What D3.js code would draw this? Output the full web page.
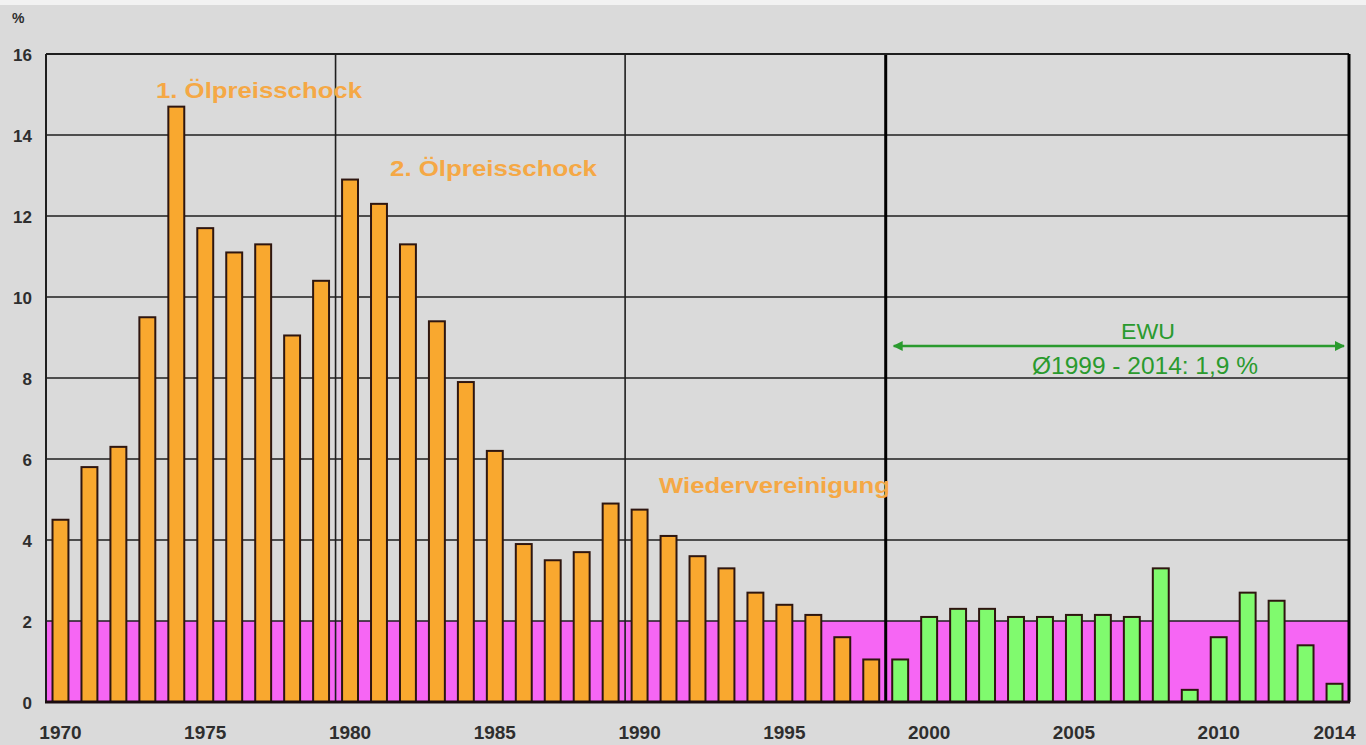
<!DOCTYPE html>
<html>
<head>
<meta charset="utf-8">
<script src="https://cdn.jsdelivr.net/npm/d3@7"></script>
<style>
  html, body { margin: 0; padding: 0; background: #dadada; }
  svg { display: block; }
</style>
</head>
<body>
<svg id="chart" width="1366" height="745"></svg>
<script>
// Inflation rate (%) per year, 1970-1998 (before the monetary union)
const yearsPre = d3.range(1970, 1999);
const valuesPre = [4.5, 5.8, 6.3, 9.5, 14.7, 11.7, 11.1, 11.3, 9.05, 10.4,
                   12.9, 12.3, 11.3, 9.4, 7.9, 6.2, 3.9, 3.5, 3.7, 4.9,
                   4.75, 4.1, 3.6, 3.3, 2.7, 2.4, 2.15, 1.6, 1.05];
// Inflation rate (%) per year, 1999-2014 (EWU period)
const yearsEwu = d3.range(1999, 2015);
const valuesEwu = [1.05, 2.1, 2.3, 2.3, 2.1, 2.1, 2.15, 2.15, 2.1, 3.3,
                   0.3, 1.6, 2.7, 2.5, 1.4, 0.45];
// Axis ticks
const yTicks = [0, 2, 4, 6, 8, 10, 12, 14, 16];
const xTickYears = [1970, 1975, 1980, 1985, 1990, 1995, 2000, 2005, 2010, 2014];
const decadeLines = [1980, 1990];
const ewuStart = 1999;
const targetBand = 2;

(function () {
const allYears = yearsPre.concat(yearsEwu);
const bars = yearsPre.map((yr, i) => ({ year: yr, value: valuesPre[i], ewu: false }))
  .concat(yearsEwu.map((yr, i) => ({ year: yr, value: valuesEwu[i], ewu: true })));

const pLeft = 46, pRight = 1349, pTop = 54, pBottom = 702;
const svg = d3.select("#chart");
const font = "'Liberation Sans', Arial, sans-serif";

const x = d3.scaleBand().domain(allYears).range([pLeft, pRight])
  .paddingInner(0.45).paddingOuter(0.225);
const y = d3.scaleLinear().domain([0, 16]).range([pBottom, pTop]);
const bandStart = yr => x(yr) - (x.step() - x.bandwidth()) / 2;

// page background with a pale strip along the top
svg.append("rect").attr("width", 1366).attr("height", 745).attr("fill", "#dadada");
svg.append("rect").attr("width", 1366).attr("height", 5).attr("fill", "#f2f2f2");

// target zone 0-2 %
svg.append("rect")
  .attr("x", pLeft).attr("y", y(targetBand))
  .attr("width", pRight - pLeft).attr("height", y(0) - y(targetBand))
  .attr("fill", "#f666f4");

// horizontal gridlines
svg.append("g").selectAll("line").data(yTicks.filter(t => t > 0)).join("line")
  .attr("x1", pLeft).attr("x2", pRight)
  .attr("y1", d => y(d)).attr("y2", d => y(d))
  .attr("stroke", "#1e1e1e").attr("stroke-width", 1.6);

// decade separators
svg.append("g").selectAll("line").data(decadeLines).join("line")
  .attr("x1", d => bandStart(d)).attr("x2", d => bandStart(d))
  .attr("y1", pTop).attr("y2", pBottom)
  .attr("stroke", "#1e1e1e").attr("stroke-width", 1.6);

// bars
svg.append("g").selectAll("rect").data(bars).join("rect")
  .attr("x", d => x(d.year))
  .attr("y", d => y(d.value))
  .attr("width", x.bandwidth())
  .attr("height", d => y(0) - y(d.value))
  .attr("fill", d => d.ewu ? "#80fa6e" : "#f9a82f")
  .attr("stroke", "#2e1610").attr("stroke-width", 2);

// EWU start marker
svg.append("line")
  .attr("x1", bandStart(ewuStart)).attr("x2", bandStart(ewuStart))
  .attr("y1", pTop).attr("y2", pBottom)
  .attr("stroke", "#000").attr("stroke-width", 3);

// plot frame
svg.append("line").attr("x1", pLeft).attr("x2", pRight).attr("y1", pTop).attr("y2", pTop)
  .attr("stroke", "#1e1e1e").attr("stroke-width", 2);
svg.append("line").attr("x1", pLeft).attr("x2", pLeft).attr("y1", pTop).attr("y2", pBottom)
  .attr("stroke", "#1e1e1e").attr("stroke-width", 2);
svg.append("line").attr("x1", pRight).attr("x2", pRight).attr("y1", pTop).attr("y2", pBottom)
  .attr("stroke", "#000").attr("stroke-width", 3);
svg.append("line").attr("x1", pLeft - 1).attr("x2", pRight + 1).attr("y1", pBottom).attr("y2", pBottom)
  .attr("stroke", "#1a0c10").attr("stroke-width", 3);

// y axis labels
const yAxis = d3.axisLeft(y).tickValues(yTicks).tickSize(0).tickPadding(14);
const gy = svg.append("g").attr("transform", `translate(${pLeft},0)`).call(yAxis);
gy.select(".domain").remove();
gy.selectAll("text").attr("font-family", font).attr("font-size", 17)
  .attr("font-weight", "bold").attr("fill", "#2e2e2e").attr("dy", "0.4em");

svg.append("text").attr("x", 12).attr("y", 23).text("%")
  .attr("font-family", font).attr("font-size", 14).attr("font-weight", "bold").attr("fill", "#2e2e2e");

// x axis labels
const xAxis = d3.axisBottom(x).tickValues(xTickYears).tickSize(0).tickPadding(24);
const gx = svg.append("g").attr("transform", `translate(0,${pBottom})`).call(xAxis);
gx.select(".domain").remove();
gx.selectAll("text").attr("font-family", font).attr("font-size", 19)
  .attr("font-weight", "bold").attr("fill", "#2e2e2e");

// event annotations
const orange = "#f5a845";
const notes = [
  { text: "1. Ölpreisschock", x: 156, y: 98, len: 206 },
  { text: "2. Ölpreisschock", x: 390, y: 176, len: 207 },
  { text: "Wiedervereinigung", x: 659, y: 493, len: 231 }
];
svg.append("g").selectAll("text").data(notes).join("text")
  .attr("x", d => d.x).attr("y", d => d.y).text(d => d.text)
  .attr("font-family", font).attr("font-size", 22)
  .attr("textLength", d => d.len).attr("lengthAdjust", "spacingAndGlyphs")
  .attr("font-weight", "bold").attr("fill", orange);

// EWU period arrow
const green = "#2a9a2e";
const defs = svg.append("defs");
defs.append("marker").attr("id", "arr")
  .attr("viewBox", "0 0 10 10").attr("refX", 9).attr("refY", 5)
  .attr("markerWidth", 5).attr("markerHeight", 4).attr("orient", "auto-start-reverse")
  .attr("markerUnits", "strokeWidth")
  .append("path").attr("d", "M0,0 L10,5 L0,10 Z").attr("fill", green);
const arrowY = 346;
svg.append("line")
  .attr("x1", bandStart(ewuStart) + 8).attr("x2", pRight - 5)
  .attr("y1", arrowY).attr("y2", arrowY)
  .attr("stroke", green).attr("stroke-width", 2.5)
  .attr("marker-start", "url(#arr)").attr("marker-end", "url(#arr)");

svg.append("text").attr("x", 1121).attr("y", 339)
  .text("EWU").attr("font-family", font).attr("font-size", 22).attr("fill", green)
  .attr("textLength", 54).attr("lengthAdjust", "spacingAndGlyphs");
svg.append("text").attr("x", 1032).attr("y", 374)
  .text("Ø1999 - 2014: 1,9 %").attr("font-family", font).attr("font-size", 23).attr("fill", green)
  .attr("textLength", 226).attr("lengthAdjust", "spacingAndGlyphs");
})();
</script>
</body>
</html>
